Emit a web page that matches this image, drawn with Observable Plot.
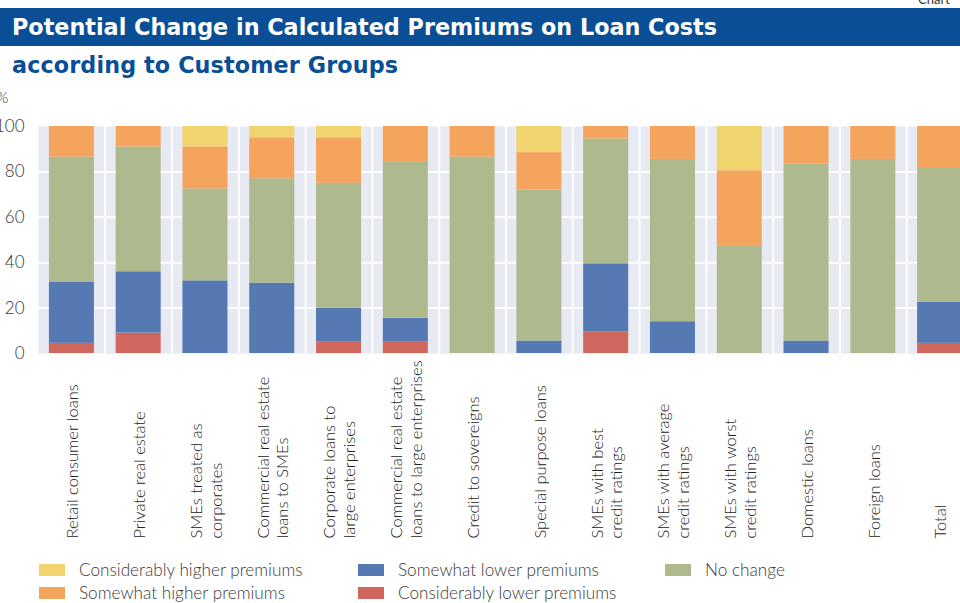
<!DOCTYPE html>
<html>
<head>
<meta charset="utf-8">
<script src="https://cdn.jsdelivr.net/npm/d3@7"></script>
<script src="https://cdn.jsdelivr.net/npm/@observablehq/plot@0.6"></script>
<style>
  html, body { margin: 0; padding: 0; width: 960px; height: 603px; overflow: hidden; background: #fff; position: relative; font-family: Lato, "Open Sans", sans-serif; }
  .abs { position: absolute; white-space: nowrap; }
  #titlebar { left: 0; top: 8px; width: 960px; height: 38px; background: #0a4f96; }
  #title { left: 12px; top: 8px; height: 38px; line-height: 38px; color: #fff; font-family: "DejaVu Sans", sans-serif; font-weight: 700; font-size: 22.3px; }
  #subtitle { left: 12px; top: 50px; color: #0a4f96; font-family: "DejaVu Sans", sans-serif; font-weight: 700; font-size: 22.3px; line-height: 30px; }
  #chartno { left: 918px; top: -9px; font-size: 13px; color: #333; }
  #pct { left: -4px; top: 87px; font-size: 16px; color: #333; font-weight: 300; }
  #chart { left: 0; top: 85px; width: 973px; }
  #chart svg { max-width: none !important; }
  .sw { width: 26px; height: 12px; }
  .lt { font-size: 17.2px; color: #3a3a3a; font-weight: 300; line-height: 20px; }
</style>
</head>
<body>
<div id="titlebar" class="abs"></div>
<div id="title" class="abs">Potential Change in Calculated Premiums on Loan Costs</div>
<div id="subtitle" class="abs">according to Customer Groups</div>
<div id="chartno" class="abs">Chart</div>
<div id="pct" class="abs">%</div>
<div id="chart" class="abs"></div>
<div id="legend"></div>
<script>
const categories = [
  "Retail consumer loans",
  "Private real estate",
  "SMEs treated as\ncorporates",
  "Commercial real estate\nloans to SMEs",
  "Corporate loans to\nlarge enterprises",
  "Commercial real estate\nloans to large enterprises",
  "Credit to sovereigns",
  "Special purpose loans",
  "SMEs with best\ncredit ratings",
  "SMEs with average\ncredit ratings",
  "SMEs with worst\ncredit ratings",
  "Domestic loans",
  "Foreign loans",
  "Total"
];

// Stack order: bottom to top
const seriesNames = [
  "Considerably lower premiums",
  "Somewhat lower premiums",
  "No change",
  "Somewhat higher premiums",
  "Considerably higher premiums"
];
const seriesColors = ["#cf675d", "#5479b3", "#aeb98e", "#f4a45d", "#f1d46e"];

const considerablyLower  = [4.5, 9, 0, 0, 5, 5, 0, 0, 9.5, 0, 0, 0, 0, 4.5];
const somewhatLower      = [27, 27, 32, 31, 15, 10.5, 0, 5.5, 30, 14, 0, 5.5, 0, 18];
const noChange           = [55, 55, 40.5, 46, 55, 69, 86.5, 66.5, 55, 71.5, 47.5, 78, 85.5, 59];
const somewhatHigher     = [13.5, 9, 18.5, 18, 20, 15.5, 13.5, 16.5, 5.5, 14.5, 33, 16.5, 14.5, 18.5];
const considerablyHigher = [0, 0, 9, 5, 5, 0, 0, 11.5, 0, 0, 19.5, 0, 0, 0];

const yTicks = [0, 20, 40, 60, 80, 100];

const seriesValues = [considerablyLower, somewhatLower, noChange, somewhatHigher, considerablyHigher];
const data = [];
seriesNames.forEach((s, si) => {
  categories.forEach((c, ci) => {
    data.push({category: c, series: s, value: seriesValues[si][ci]});
  });
});

const W = 973, ML = 38;
const step = (W - ML) / categories.length;

const chart = Plot.plot({
  width: W,
  height: 465,
  marginLeft: ML,
  marginRight: 0,
  marginTop: 41,
  marginBottom: 197,
  style: {fontFamily: "Lato, 'Open Sans', sans-serif", fontSize: "16px", color: "#333", background: "transparent", overflow: "visible", maxWidth: "none"},
  x: {domain: categories, paddingInner: 0.326, paddingOuter: 0.163, round: false, axis: null},
  y: {domain: [0, 100], axis: null},
  color: {domain: seriesNames, range: seriesColors},
  marks: [
    Plot.frame({fill: "#e7e9f3", stroke: "none"}),
    Plot.gridY(yTicks.slice(1, -1), {stroke: "#fff", strokeOpacity: 1, strokeWidth: 2}),
    Plot.gridX(categories.slice(1), {stroke: "#fff", strokeOpacity: 1, strokeWidth: 2, dx: -step / 2}),
    Plot.barY(data, {x: "category", y: "value", fill: "series", order: seriesNames}),
    Plot.axisY(yTicks, {tickSize: 0, tickPadding: 14, fontSize: 17, fontWeight: 300, label: null}),
    Plot.text(categories, {
      x: d => d, text: d => d, frameAnchor: "bottom", dy: 185,
      rotate: -90, textAnchor: "start", lineAnchor: "middle",
      fontSize: 16.5, fontWeight: 300, lineHeight: 1.2, fill: "#222"
    })
  ]
});
document.getElementById("chart").appendChild(chart);

// Fit title widths to the reference extents via letter-spacing
function fit(id, target) {
  const el = document.getElementById(id);
  const n = el.textContent.length;
  const w = el.getBoundingClientRect().width;
  el.style.letterSpacing = ((target - w) / (n - 1)) + "px";
}
fit("title", 705);
fit("subtitle", 386);

// Legend
const legendItems = [
  {name: "Considerably higher premiums", col: 0, row: 0},
  {name: "Somewhat higher premiums", col: 0, row: 1},
  {name: "Somewhat lower premiums", col: 1, row: 0},
  {name: "Considerably lower premiums", col: 1, row: 1},
  {name: "No change", col: 2, row: 0}
];
const colX = [39, 358, 665];
const rowY = [564, 587];
const legend = document.getElementById("legend");
legendItems.forEach(it => {
  const sw = document.createElement("div");
  sw.className = "abs sw";
  sw.style.left = colX[it.col] + "px";
  sw.style.top = rowY[it.row] + "px";
  sw.style.background = seriesColors[seriesNames.indexOf(it.name)];
  legend.appendChild(sw);
  const t = document.createElement("div");
  t.className = "abs lt";
  t.style.left = (colX[it.col] + 40) + "px";
  t.style.top = (rowY[it.row] - 4) + "px";
  t.textContent = it.name;
  legend.appendChild(t);
});
</script>
</body>
</html>
